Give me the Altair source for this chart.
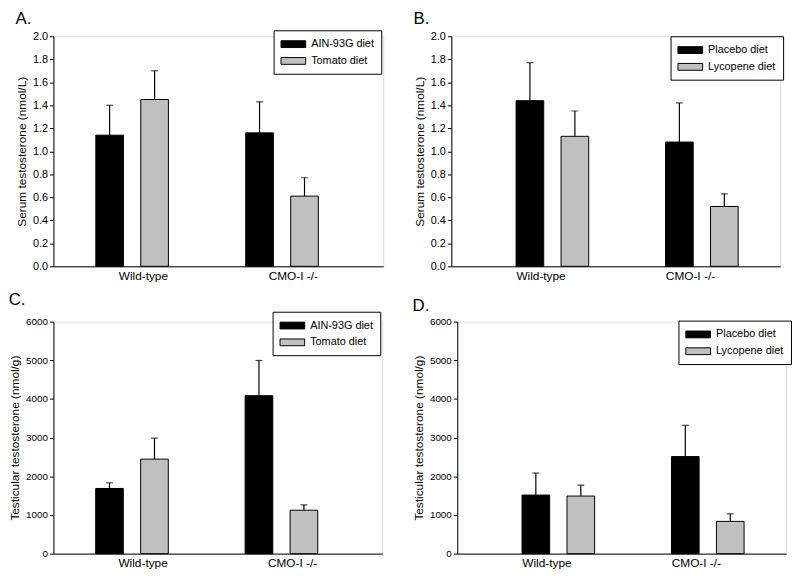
import altair as alt
import pandas as pd

groups = ["Wild-type", "CMO-I -/-"]

# Panel A: serum testosterone, tomato study
a_diets = ["AIN-93G diet", "Tomato diet"]
a_control = [1.14, 1.16]
a_control_err = [0.26, 0.27]
a_treat = [1.45, 0.61]
a_treat_err = [0.25, 0.16]

# Panel B: serum testosterone, lycopene study
b_diets = ["Placebo diet", "Lycopene diet"]
b_control = [1.44, 1.08]
b_control_err = [0.33, 0.34]
b_treat = [1.13, 0.52]
b_treat_err = [0.22, 0.11]

# Panel C: testicular testosterone, tomato study
c_diets = ["AIN-93G diet", "Tomato diet"]
c_control = [1685, 4085]
c_control_err = [145, 910]
c_treat = [2443, 1123]
c_treat_err = [545, 137]

# Panel D: testicular testosterone, lycopene study
d_diets = ["Placebo diet", "Lycopene diet"]
d_control = [1515, 2511]
d_control_err = [570, 808]
d_treat = [1489, 834]
d_treat_err = [281, 196]

serum_ticks = [0.0, 0.2, 0.4, 0.6, 0.8, 1.0, 1.2, 1.4, 1.6, 1.8, 2.0]
testis_ticks = [0, 1000, 2000, 3000, 4000, 5000, 6000]

FONT = "Liberation Sans"
RECT = "M-2,-0.55H2V0.55H-2Z"


def panel(letter, ytitle, ticks, fmt, tick_font, diets, control, control_err,
          treat, treat_err, width, height, legend_x, legend_y):
    rows = []
    for i, g in enumerate(groups):
        rows.append({"genotype": g, "diet": diets[0], "mean": control[i],
                     "upper": control[i] + control_err[i]})
        rows.append({"genotype": g, "diet": diets[1], "mean": treat[i],
                     "upper": treat[i] + treat_err[i]})
    df = pd.DataFrame(rows)

    xaxis = alt.Axis(title=None, labelAngle=0, ticks=False, labelPadding=4,
                     labelFontSize=12, labelFont=FONT, domainColor="black",
                     labelColor="black")
    x = alt.X("genotype:N", sort=groups,
              scale=alt.Scale(paddingInner=0.4, paddingOuter=0.3),
              axis=xaxis)
    xoff = alt.XOffset("diet:N", sort=diets,
                       scale=alt.Scale(paddingInner=0, paddingOuter=0))
    yscale = alt.Scale(domain=[ticks[0], ticks[-1]], nice=False)
    yaxis = alt.Axis(title=ytitle, values=ticks, format=fmt, tickSize=4,
                     tickColor="black", domainColor="black", grid=False,
                     labelOverlap=False,
                     labelFontSize=tick_font, labelFont=FONT, labelColor="black",
                     titleFontSize=12, titleFont=FONT, titleFontWeight="normal",
                     titleColor="black", labelPadding=2, titlePadding=4)

    base = alt.Chart(df)
    bars = base.mark_bar(stroke="black", strokeWidth=1, width=28).encode(
        x=x, xOffset=xoff,
        y=alt.Y("mean:Q", scale=yscale, axis=yaxis),
        color=alt.Color("diet:N", sort=diets,
                        scale=alt.Scale(domain=diets, range=["#000000", "#c0c0c0"]),
                        legend=alt.Legend(title=None, orient="none",
                                          legendX=legend_x, legendY=legend_y,
                                          symbolType=RECT, symbolSize=156,
                                          symbolOffset=6,
                                          symbolStrokeColor="black",
                                          symbolStrokeWidth=1,
                                          labelFont=FONT, labelFontSize=11,
                                          labelColor="black",
                                          strokeColor="black", fillColor="white",
                                          padding=7, rowPadding=4,
                                          labelOffset=11)),
    )
    rules = base.mark_rule(color="black", strokeWidth=1.2).encode(
        x=x, xOffset=xoff,
        y=alt.Y("mean:Q", scale=yscale, axis=yaxis), y2="upper:Q")
    caps = base.mark_tick(color="black", size=7, thickness=1.2).encode(
        x=x, xOffset=xoff, y=alt.Y("upper:Q", scale=yscale, axis=yaxis))

    return alt.layer(bars, rules, caps).properties(
        width=width, height=height,
        title=alt.TitleParams(letter, anchor="start", frame="bounds",
                              fontSize=17, font=FONT, fontWeight="normal",
                              color="black", offset=2),
    )


pa = panel("A.", "Serum testosterone (nmol/L)", serum_ticks, ".1f", 11,
           a_diets, a_control, a_control_err, a_treat, a_treat_err, 334, 233, 223, -6)
pb = panel("B.", "Serum testosterone (nmol/L)", serum_ticks, ".1f", 11,
           b_diets, b_control, b_control_err, b_treat, b_treat_err, 333, 233, 222, 0)
pc = panel("C.", "Testicular testosterone (nmol/g)", testis_ticks, "d", 10,
           c_diets, c_control, c_control_err, c_treat, c_treat_err, 333, 235, 222, -10)
pd_ = panel("D.", "Testicular testosterone (nmol/g)", testis_ticks, "d", 10,
            d_diets, d_control, d_control_err, d_treat, d_treat_err, 333, 235, 224, -1)

row1 = alt.hconcat(pa, pb, spacing=29).resolve_scale(color="independent").resolve_legend(color="independent")
row2 = alt.hconcat(pc, pd_, spacing=29).resolve_scale(color="independent").resolve_legend(color="independent")

chart = alt.vconcat(row1, row2, spacing=9).resolve_scale(
    color="independent").resolve_legend(color="independent").properties(
    padding={"left": 0, "top": -2, "right": 0, "bottom": 0}).configure_view(
    strokeWidth=0).configure(background="white")

chart.save("out.html", embed_options={"renderer": "svg", "actions": False})
